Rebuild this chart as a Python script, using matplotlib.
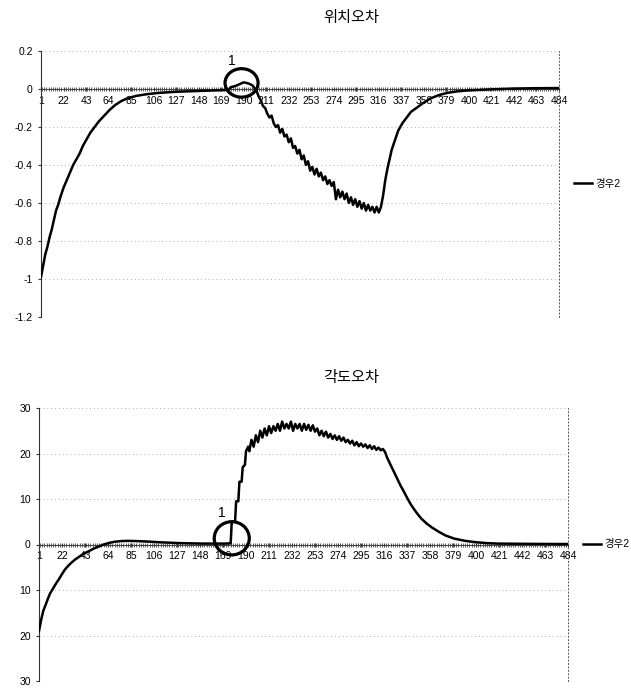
import matplotlib
matplotlib.use("Agg")
import matplotlib.pyplot as plt
from matplotlib.patches import Ellipse
from matplotlib.ticker import FixedLocator, MultipleLocator

plt.rcParams['font.family'] = ['Liberation Sans', 'Noto Sans CJK KR', 'DejaVu Sans']

# ---------------- data ----------------
title_top = "위치오차"
title_bot = "각도오차"
series_name = "경우2"
xtick_vals = list(range(1, 485, 21))

pos_x = [1, 3, 5, 7, 9, 11, 13, 15, 17, 19, 22, 25, 28, 31, 34, 37, 40, 43, 47, 51, 55, 60, 65, 70, 76,
         82, 90, 100, 110, 120, 130, 140, 150, 160, 170, 176, 178, 182, 186, 190, 194, 196,
         198, 200, 202, 204, 206, 208, 210, 212, 214, 216, 218, 220, 222, 224, 226, 228, 230, 232,
         234, 236, 238, 240, 242, 244, 246, 248, 250, 252, 254, 256, 258, 260, 262, 264, 266, 268,
         270, 272, 274, 276, 278, 280, 282, 284, 286, 288, 290, 292, 294, 296, 298, 300, 302, 304,
         306, 308, 310, 312, 314, 316, 318, 320, 322, 324, 326, 328, 331, 334, 338, 342, 346, 351,
         357, 364, 372, 380, 390, 400, 420, 440, 460, 484]
pos_y = [-0.99, -0.93, -0.87, -0.83, -0.78, -0.74, -0.69, -0.64, -0.61, -0.57, -0.52, -0.48, -0.44,
         -0.40, -0.37, -0.34, -0.30, -0.27, -0.23, -0.20, -0.17, -0.14, -0.11, -0.085, -0.063,
         -0.048, -0.036, -0.027, -0.021, -0.017, -0.014, -0.012, -0.010, -0.008, -0.006, -0.004,
         0.01, 0.015, 0.025, 0.035, 0.03, 0.025,
         0.02, 0.005, -0.01, -0.04, -0.06, -0.09, -0.10, -0.13, -0.15, -0.14, -0.18, -0.20, -0.19,
         -0.23, -0.21, -0.25, -0.24, -0.28, -0.26, -0.31, -0.30, -0.34, -0.32, -0.37, -0.35, -0.40,
         -0.38, -0.43, -0.41, -0.45, -0.42, -0.46, -0.44, -0.48, -0.46, -0.50, -0.48, -0.51, -0.49,
         -0.58, -0.53, -0.57, -0.54, -0.58, -0.55, -0.60, -0.57, -0.61, -0.58, -0.62, -0.59, -0.63,
         -0.60, -0.64, -0.61, -0.64, -0.62, -0.65, -0.62, -0.65, -0.62, -0.56, -0.48, -0.42, -0.37,
         -0.32, -0.27, -0.22, -0.18, -0.15, -0.12, -0.10, -0.075, -0.05, -0.032, -0.02, -0.012,
         -0.007, -0.002, 0.002, 0.004, 0.005]

ang_x = [1, 3, 5, 7, 9, 11, 13, 15, 17, 19, 22, 25, 28, 31, 34, 37, 40, 43, 47, 51, 55, 60, 65, 70,
         76, 82, 90, 100, 110, 120, 130, 140, 150, 160, 170, 176, 177, 180, 181, 183, 184, 186, 187,
         189, 190, 192, 193, 195, 197, 199, 201, 203, 205, 207, 209, 211, 213, 215, 217, 219, 221,
         223, 225, 227, 229, 231, 233, 235, 237, 239, 241, 243, 245, 247, 249, 251, 253, 255, 257,
         259, 261, 263, 265, 267, 269, 271, 273, 275, 277, 279, 281, 283, 285, 287, 289, 291, 293,
         295, 297, 299, 301, 303, 305, 307, 309, 311, 313, 315, 317, 319, 322, 325, 328, 331, 334,
         337, 340, 343, 346, 350, 355, 360, 366, 372, 380, 390, 400, 410, 420, 440, 460, 484]
ang_y = [-19, -16.5, -14.5, -13.3, -12, -10.8, -10, -9.2, -8.4, -7.7, -6.5, -5.4, -4.6, -3.9, -3.3,
         -2.8, -2.3, -1.9, -1.4, -0.9, -0.5, 0.0, 0.35, 0.6, 0.75, 0.8, 0.75, 0.65, 0.5, 0.4, 0.3,
         0.25, 0.2, 0.2, 0.2, 0.25, 5.0, 5.0, 9.5, 9.5, 13.8, 13.8, 17.0, 17.5, 20.5, 21.5, 20.5,
         23.0, 21.5, 24.0, 22.5, 25.0, 23.5, 25.5, 24.0, 26.0, 24.5, 26.0, 25.0, 26.5, 25.0, 27.0,
         25.5, 26.5, 25.5, 27.0, 25.0, 26.5, 25.5, 26.5, 25.0, 26.5, 25.2, 26.3, 25.0, 26.2, 24.8,
         25.5, 24.0, 25.0, 23.8, 24.8, 23.5, 24.3, 23.2, 24.0, 23.0, 23.8, 22.8, 23.5, 22.5, 23.0,
         22.2, 22.8, 21.8, 22.5, 21.6, 22.2, 21.5, 22.0, 21.2, 21.8, 21.0, 21.6, 20.8, 21.3, 20.7,
         21.0, 20.3, 19.0, 17.5, 16.0, 14.5, 13.0, 11.7, 10.3, 9.0, 7.9, 6.9, 5.7, 4.6, 3.7, 2.8,
         2.0, 1.3, 0.8, 0.5, 0.3, 0.2, 0.15, 0.12, 0.1]

pos_yticks = [0.2, 0, -0.2, -0.4, -0.6, -0.8, -1.0, -1.2]
pos_ylabels = ["0.2", "0", "-0.2", "-0.4", "-0.6", "-0.8", "-1", "-1.2"]
ang_yticks = [30, 20, 10, 0, -10, -20, -30]
ang_ylabels = ["30", "20", "10", "0", "10", "20", "30"]

# ---------------- figure ----------------
fig = plt.figure(figsize=(6.31, 6.89), dpi=100)
W, H = 631, 689

def make_ax(l, r, t, b):
    return fig.add_axes([l / W, 1 - b / H, (r - l) / W, (b - t) / H])

ax1 = make_ax(41, 559, 51, 317)
ax2 = make_ax(39, 568, 408, 681)

def style(ax, x, y, yticks, ylabels, ylim, title, title_y, ell, one_xy):
    ax.set_xlim(1, 484)
    ax.set_ylim(*ylim)
    for v in yticks:
        ax.axhline(v, color='#b0b0b0', lw=0.7, ls=(0, (1, 3)), zorder=0)
    ax.plot(x, y, color='black', lw=1.8, label=series_name, zorder=3)
    ax.spines['top'].set_visible(False)
    ax.spines['right'].set_linestyle((0, (1, 2.5)))
    ax.spines['right'].set_color('#555555')
    ax.spines['right'].set_linewidth(0.7)
    ax.spines['left'].set_color('#333333')
    ax.spines['left'].set_linewidth(0.8)
    ax.spines['bottom'].set_position(('data', 0))
    ax.spines['bottom'].set_color('#444444')
    ax.spines['bottom'].set_linewidth(0.8)
    ax.xaxis.set_major_locator(FixedLocator(xtick_vals))
    ax.xaxis.set_minor_locator(MultipleLocator(2))
    ax.set_xticklabels([str(v) for v in xtick_vals])
    ax.tick_params(axis='x', which='major', length=3.5, direction='inout', labelsize=7.5, pad=3,
                   color='#333333')
    ax.tick_params(axis='x', which='minor', length=3.5, width=0.6, direction='inout', color='#444444')
    ax.set_yticks(yticks)
    ax.set_yticklabels(ylabels)
    ax.tick_params(axis='y', length=2, labelsize=7.5, pad=4, color='#333333')
    ax.legend(loc='center left', bbox_to_anchor=(1.01, 0.5), frameon=False, fontsize=7.5,
              handlelength=1.8, handletextpad=0.3)
    e = Ellipse(ell[0:2], ell[2], ell[3], fill=False, lw=2.3, ec='black', zorder=4)
    ax.add_patch(e)
    ax.text(one_xy[0], one_xy[1], "1", fontsize=10, ha='center', va='center')
    fig.text(351 / W, 1 - title_y / H, title, fontsize=11, ha='center', va='center')

style(ax1, pos_x, pos_y, pos_yticks, pos_ylabels, (-1.2, 0.2), title_top, 18,
      (188, 0.032, 30.8, 0.15), (179, 0.148))
style(ax2, ang_x, ang_y, ang_yticks, ang_ylabels, (-30, 30), title_bot, 378,
      (177, 1.36, 32, 7.3), (168, 6.9))

fig.savefig("out.png", dpi=100)
